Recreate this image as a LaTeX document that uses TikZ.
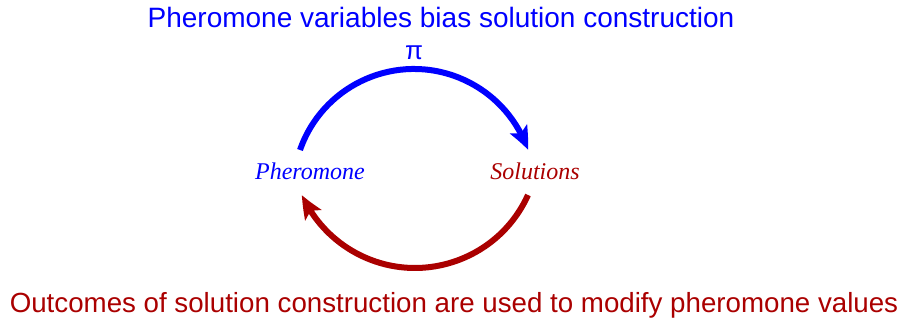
\documentclass[tikz,border=0pt]{standalone}
\usepackage{fontspec}
\setmainfont{Liberation Serif}
\newfontfamily\arialf{Liberation Sans}
\usetikzlibrary{arrows.meta,bending}
\definecolor{dred}{RGB}{170,0,0}
\definecolor{pblue}{RGB}{0,0,255}
\tikzset{
  cyc/.style={line width=6pt, -{Stealth[length=23pt,width=19pt,inset=5pt,bend]}},
  heading/.style={font=\arialf\fontsize{28}{32}\selectfont, inner sep=0pt},
  lbl/.style={font=\itshape\fontsize{24}{28}\selectfont, inner sep=0pt},
}
\begin{document}
\begin{tikzpicture}[x=1pt,y=1pt]
\useasboundingbox (0,0) rectangle (907,323);
\node[heading, text=pblue] (top) at (441,306) {Pheromone variables bias solution construction};
\node[heading, font=\arialf\fontsize{27.7}{32}\selectfont, text=dred] (bot) at (454,18) {Outcomes of solution construction are used to modify pheromone values};
\node[lbl, text=pblue] (pher) at (310,152) {Pheromone};
\node[lbl, text=dred] (sol) at (535,152) {Solutions};
\node[font=\arialf\fontsize{26}{30}\selectfont, text=pblue, inner sep=0pt] (pi) at (414,270) {π};
\coordinate (b1) at (300,173);
\coordinate (r1) at (528,128);
\draw[cyc, pblue] (b1) arc[start angle=160.8, end angle=19.2, radius=120.7];
\draw[cyc, dred] (r1) arc[start angle=-24.3, end angle=-155.7, radius=124];
\end{tikzpicture}
\end{document}
